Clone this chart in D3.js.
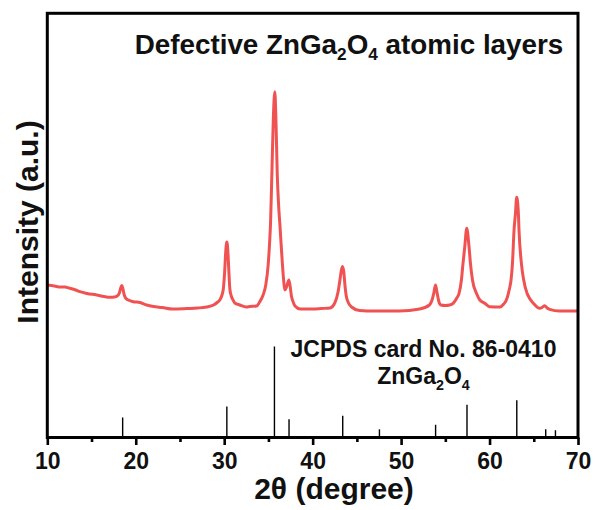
<!DOCTYPE html>
<html>
<head>
<meta charset="utf-8">
<script src="https://cdn.jsdelivr.net/npm/d3@7/dist/d3.min.js"></script>
<style>
  html, body { margin: 0; padding: 0; background: #fff; }
  svg { display: block; font-family: "Liberation Sans", Arial, sans-serif; }
</style>
</head>
<body>
<svg id="chart" width="595" height="510"></svg>
<script>
// Measured XRD pattern of the ZnGa2O4 atomic layers
const twoTheta = [10.0,10.8,11.5,12.0,12.56,13.2,13.69,14.5,15.58,16.4,17.08,17.6,17.9,18.15,18.3,18.42,18.55,18.7,18.9,19.3,19.72,20.48,21.23,22.0,23.0,24.2,25.8,27.0,28.0,28.8,29.2,29.5,29.75,29.9,30.05,30.17,30.3,30.42,30.52,30.64,30.8,31.0,31.2,31.76,32.5,32.9,33.66,34.0,34.4,34.7,34.97,35.15,35.24,35.4,35.55,35.72,35.85,36.0,36.15,36.3,36.55,36.75,36.86,37.0,37.15,37.31,37.45,37.6,37.8,38.0,38.6,40.0,41.0,41.95,42.5,42.87,43.1,43.25,43.38,43.52,43.65,43.8,44.0,44.4,45.3,47.0,49.8,52.1,53.2,53.5,53.7,53.89,54.05,54.25,54.5,55.0,55.48,55.88,56.3,56.55,56.82,57.0,57.2,57.42,57.68,57.84,58.07,58.52,58.9,59.46,60.0,61.2,61.6,61.9,62.13,62.27,62.43,62.59,62.77,62.93,63.07,63.26,63.33,63.6,63.86,64.24,64.5,64.92,65.67,66.0,66.24,66.5,66.8,67.9,69.0,70.0];
const intensity = [1525,1515,1505,1505,1492,1475,1458,1440,1425,1410,1402,1405,1415,1445,1495,1520,1485,1425,1390,1370,1358,1350,1325,1310,1300,1285,1290,1295,1305,1325,1350,1375,1425,1485,1655,1855,1955,1855,1675,1485,1415,1375,1345,1325,1305,1310,1315,1355,1425,1525,1725,1975,2145,2675,3175,3458,3175,2625,2325,2125,1775,1545,1475,1495,1535,1575,1515,1415,1355,1315,1285,1285,1290,1295,1345,1455,1585,1675,1710,1655,1525,1415,1355,1305,1270,1265,1265,1285,1325,1375,1445,1525,1455,1365,1325,1320,1325,1342,1395,1442,1575,1742,1908,2092,1908,1742,1575,1442,1375,1342,1308,1305,1335,1375,1442,1495,1575,1742,2075,2242,2402,2242,2075,1742,1575,1442,1395,1345,1292,1305,1318,1295,1282,1265,1265,1265];

// JCPDS card No. 86-0410 reference lines (relative intensity, %)
const refTwoTheta = [18.52, 30.3, 35.68, 37.33, 43.4, 47.55, 53.9, 57.45, 63.08, 66.35, 67.45];
const refIntensity = [22, 34, 100, 20, 24, 9, 14, 36, 41, 9, 8];

const xTicks = [10, 20, 30, 40, 50, 60, 70];
const xMinorTicks = [15, 25, 35, 45, 55, 65];

const svg = d3.select("#chart");
const plotLeft = 47.3, plotRight = 578, plotTop = 13.3, plotBottom = 437.5;

const x = d3.scaleLinear().domain([10, 70]).range([plotLeft, plotRight]);
const y = d3.scaleLinear().domain([0, 4242]).range([plotBottom, plotTop]);
const yRef = d3.scaleLinear().domain([0, 100]).range([plotBottom, 346.5]);

// reference sticks
svg.append("g")
  .selectAll("line")
  .data(refTwoTheta.map((t, i) => ({ t, v: refIntensity[i] })))
  .join("line")
  .attr("x1", d => x(d.t)).attr("x2", d => x(d.t))
  .attr("y1", yRef(0)).attr("y2", d => yRef(d.v))
  .attr("stroke", "#000").attr("stroke-width", 1.4);

// measured pattern
const pts = twoTheta.map((t, i) => [t, intensity[i]]);
svg.append("path")
  .datum(pts)
  .attr("fill", "none")
  .attr("stroke", "#f05252")
  .attr("stroke-width", 3)
  .attr("stroke-linejoin", "round")
  .attr("d", d3.line().x(d => x(d[0])).y(d => y(d[1])).curve(d3.curveMonotoneX));

// frame
svg.append("rect")
  .attr("x", plotLeft).attr("y", plotTop)
  .attr("width", plotRight - plotLeft).attr("height", plotBottom - plotTop)
  .attr("fill", "none").attr("stroke", "#000").attr("stroke-width", 3);

// bottom axis
const xAxis = svg.append("g")
  .attr("transform", `translate(0,${plotBottom})`)
  .call(d3.axisBottom(x).tickValues(xTicks).tickSize(7.5).tickPadding(8).tickFormat(d3.format("d")));
xAxis.select(".domain").remove();
xAxis.selectAll(".tick line").attr("stroke-width", 2.6);
xAxis.selectAll(".tick text")
  .attr("font-size", 23).attr("font-weight", "bold").attr("fill", "#111")
  .attr("font-family", "'Liberation Sans', Arial, sans-serif");

const xMinor = svg.append("g")
  .attr("transform", `translate(0,${plotBottom})`)
  .call(d3.axisBottom(x).tickValues(xMinorTicks).tickSize(4.5).tickFormat(""));
xMinor.select(".domain").remove();
xMinor.selectAll(".tick line").attr("stroke-width", 2.6);

// axis titles
svg.append("text")
  .attr("x", 334).attr("y", 499)
  .attr("text-anchor", "middle")
  .attr("font-size", 30).attr("font-weight", "bold").attr("fill", "#111")
  .text("2θ (degree)");

svg.append("text")
  .attr("transform", "translate(38,222) rotate(-90)")
  .attr("text-anchor", "middle")
  .attr("font-size", 30).attr("font-weight", "bold").attr("fill", "#111")
  .text("Intensity (a.u.)");

// formula helper: main text with subscript digits
function formula(sel, parts, size, sub) {
  let shift = 0;
  parts.forEach(p => {
    if (typeof p === "string") {
      const t = sel.append("tspan").attr("font-size", size).text(p);
      if (shift) { t.attr("dy", -shift); shift = 0; }
    } else {
      sel.append("tspan").attr("font-size", size * 0.62)
        .attr("dy", sub - shift).text(p[0]);
      shift = sub;
    }
  });
}

const title = svg.append("text")
  .attr("x", 349).attr("y", 53.5)
  .attr("text-anchor", "middle")
  .attr("font-weight", "bold").attr("fill", "#111");
formula(title, ["Defective ZnGa", ["2"], "O", ["4"], " atomic layers"], 27.8, 6.5);

svg.append("text")
  .attr("x", 423.5).attr("y", 356.5)
  .attr("text-anchor", "middle")
  .attr("font-size", 23).attr("font-weight", "bold").attr("fill", "#111")
  .text("JCPDS card No. 86-0410");

const card = svg.append("text")
  .attr("x", 423.5).attr("y", 384)
  .attr("text-anchor", "middle")
  .attr("font-weight", "bold").attr("fill", "#111");
formula(card, ["ZnGa", ["2"], "O", ["4"]], 23, 5.5);
</script>
</body>
</html>
